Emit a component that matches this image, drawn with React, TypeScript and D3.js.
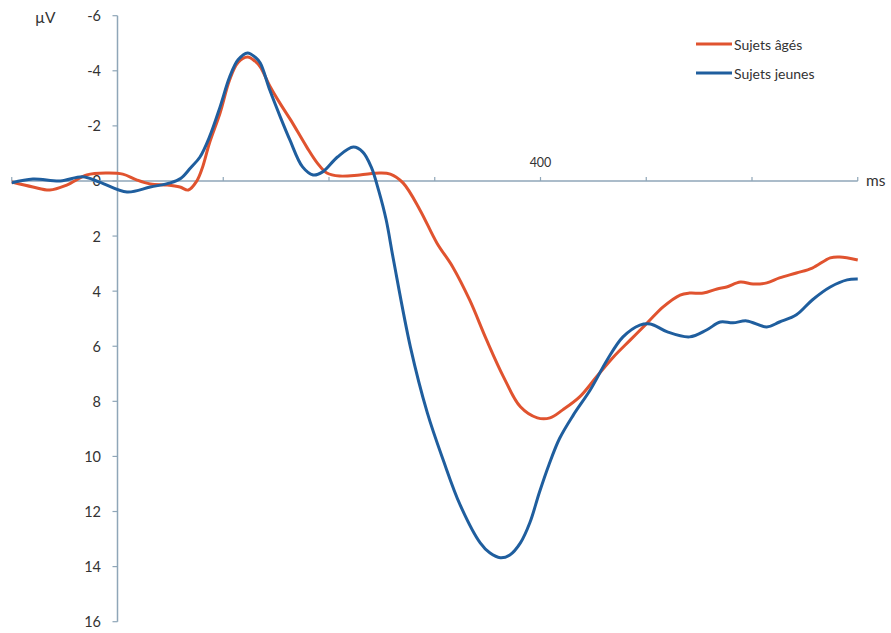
import React from "react";
import * as d3 from "d3";

const agesMs = [-100, -80, -64, -48, -29, -10, 5, 18, 31, 47, 59, 67, 75, 80, 87, 97, 106, 114, 123, 130, 135, 144, 154, 164, 179, 189, 198, 210, 229, 248, 258, 270, 286, 302, 317, 333, 349, 365, 381, 397, 409, 421, 437, 453, 469, 485, 501, 516, 532, 541, 554, 567, 576, 589, 601, 614, 626, 642, 657, 674, 683, 700];
const agesUv = [0.04, 0.22, 0.33, 0.15, -0.22, -0.29, -0.25, -0.04, 0.11, 0.15, 0.22, 0.33, 0.0, -0.45, -1.38, -2.47, -3.67, -4.3, -4.5, -4.35, -4.14, -3.45, -2.8, -2.2, -1.23, -0.65, -0.29, -0.18, -0.22, -0.29, -0.25, 0.07, 1.05, 2.25, 3.12, 4.32, 5.77, 7.11, 8.2, 8.6, 8.6, 8.31, 7.84, 7.11, 6.39, 5.77, 5.15, 4.57, 4.14, 4.07, 4.07, 3.92, 3.85, 3.67, 3.74, 3.7, 3.52, 3.34, 3.16, 2.79, 2.76, 2.87];

const jeunesMs = [-100, -80, -54, -33, -17, 9, 31, 50, 60, 69, 78, 87, 97, 106, 114, 123, 130, 135, 144, 154, 163, 175, 185, 194, 208, 223, 232, 240, 247, 254, 261, 277, 293, 308, 324, 343, 352, 362, 371, 381, 390, 399, 408, 418, 431, 447, 463, 478, 494, 504, 520, 541, 557, 570, 582, 595, 614, 626, 642, 657, 674, 690, 700];
const jeunesUv = [0.07, -0.07, 0, -0.15, 0.04, 0.4, 0.22, 0.07, -0.1, -0.47, -0.87, -1.6, -2.69, -3.77, -4.4, -4.65, -4.5, -4.28, -3.3, -2.32, -1.49, -0.51, -0.22, -0.33, -0.87, -1.23, -1.05, -0.5, 0.35, 1.4, 2.87, 6.03, 8.42, 10.13, 11.76, 13.14, 13.5, 13.68, 13.58, 13.14, 12.4, 11.3, 10.3, 9.35, 8.5, 7.59, 6.5, 5.66, 5.23, 5.19, 5.48, 5.66, 5.41, 5.12, 5.15, 5.08, 5.3, 5.12, 4.86, 4.32, 3.85, 3.59, 3.56];

const yTicks = [-6, -4, -2, 0, 2, 4, 6, 8, 10, 12, 14, 16];
const xTicks = [-100, 0, 100, 200, 300, 400, 500, 600, 700];
const xLabels = [400];
const seriesNames = ["Sujets âgés", "Sujets jeunes"];
const seriesColors = ["#E0532F", "#1F5E9E"];

const W = 891;
const H = 633;
const AXIS = "#8FA6B8";
const TEXT = "#333333";
const FONT = "Lato, 'Open Sans', sans-serif";

export default function App() {
  const x = d3.scaleLinear().domain([-100, 700]).range([11.75, 857.75]);
  const y = d3.scaleLinear().domain([-6, 16]).range([15.7, 621.7]);
  const line = d3
    .line<[number, number]>()
    .x((d) => x(d[0]))
    .y((d) => y(d[1]))
    .curve(d3.curveCatmullRom.alpha(0.5));

  const series = [
    agesMs.map((m, i) => [m, agesUv[i]] as [number, number]),
    jeunesMs.map((m, i) => [m, jeunesUv[i]] as [number, number]),
  ];
  const x0 = x(0);
  const y0 = y(0);

  return (
    <svg
      width={W}
      height={H}
      style={{ position: "absolute", left: 0, top: 0, background: "#fff" }}
      fontFamily={FONT}
    >
      <line x1={x0} x2={x0} y1={y(-6)} y2={y(16)} stroke={AXIS} strokeWidth={1.5} />
      {yTicks.map((t) => (
        <g key={t}>
          <line x1={x0 - 5} x2={x0} y1={y(t)} y2={y(t)} stroke={AXIS} strokeWidth={1.2} />
          <text x={101} y={y(t)} textAnchor="end" dominantBaseline="central" fontSize={14.5} fill={TEXT}>
            {t}
          </text>
        </g>
      ))}
      <line x1={x(-100)} x2={x(700)} y1={y0} y2={y0} stroke={AXIS} strokeWidth={1.5} />
      {xTicks.map((t) => (
        <line key={t} x1={x(t)} x2={x(t)} y1={y0 - 4} y2={y0} stroke={AXIS} strokeWidth={1.2} />
      ))}
      {xLabels.map((t) => (
        <text key={t} x={x(t)} y={y0 - 18} textAnchor="middle" dominantBaseline="central" fontSize={12.5} fill={TEXT}>
          {t}
        </text>
      ))}
      <text x={866} y={y0 - 1} dominantBaseline="central" fontSize={15.5} fill={TEXT}>
        ms
      </text>
      <text x={35} y={17} dominantBaseline="central" fontSize={15.5} fill={TEXT}>
        µV
      </text>
      {series.map((s, i) => (
        <path key={i} d={line(s) || ""} fill="none" stroke={seriesColors[i]} strokeWidth={3} strokeLinejoin="round" />
      ))}
      {seriesNames.map((n, i) => (
        <g key={n}>
          <line x1={696} x2={732} y1={44 + i * 29} y2={44 + i * 29} stroke={seriesColors[i]} strokeWidth={3} />
          <text x={734} y={44 + i * 29} dominantBaseline="central" fontSize={14} fill={TEXT}>
            {n}
          </text>
        </g>
      ))}
    </svg>
  );
}
